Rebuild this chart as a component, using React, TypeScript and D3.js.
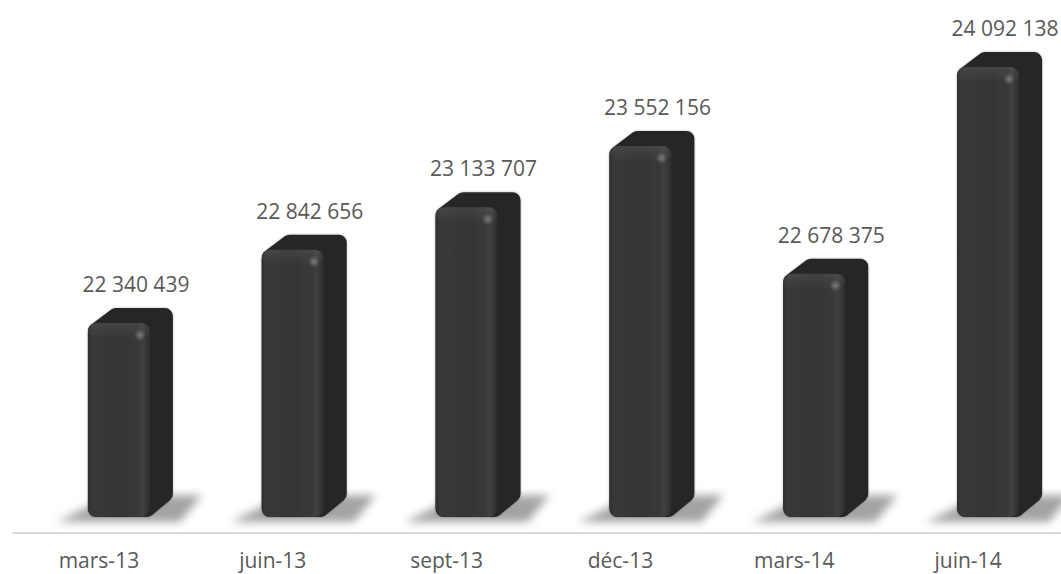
import * as d3 from 'd3';

const WIDTH = 1061;
const HEIGHT = 574;

// data
const categories = ['mars-13', 'juin-13', 'sept-13', 'déc-13', 'mars-14', 'juin-14'];
const values = [22340439, 22842656, 23133707, 23552156, 22678375, 24092138];
const yDomain = [21000000, 24500000];

// 3D look of the bars
const FRONT_W = 62;
const FRONT_SHIFT = -11; // front face left edge relative to category center
const DEPTH_X = 23;
const DEPTH_Y = -15;
const CORNER = 8;

const frLocale = d3.formatLocale({
  decimal: ',',
  thousands: ' ',
  grouping: [3],
  currency: ['', ' €'],
});
const fmt = frLocale.format(',d');

export default function App() {
  const x = d3.scaleBand<string>().domain(categories).range([12, 1055]).paddingInner(0);
  const y = d3.scaleLinear().domain(yDomain).range([519, 7.5]);

  const baseY = y(yDomain[0]) - 2;
  const axisY = baseY + 16;

  return (
    <svg
      width={WIDTH}
      height={HEIGHT}
      viewBox={`0 0 ${WIDTH} ${HEIGHT}`}
      style={{ position: 'absolute', left: 0, top: 0, display: 'block', background: '#fff' }}
    >
      <defs>
        <filter id="shadowBlur" x="-30%" y="-100%" width="160%" height="300%">
          <feGaussianBlur stdDeviation="4.5" />
        </filter>
        <filter id="halo" x="-20%" y="-10%" width="140%" height="120%">
          <feDropShadow dx="0" dy="0" stdDeviation="1.2" floodColor="#000" floodOpacity="0.3" />
        </filter>
        <linearGradient id="frontGrad" x1="0" x2="1" y1="0" y2="0">
          <stop offset="0" stopColor="#2e2e2e" />
          <stop offset="0.07" stopColor="#383838" />
          <stop offset="0.5" stopColor="#353535" />
          <stop offset="0.8" stopColor="#383838" />
          <stop offset="0.88" stopColor="#404040" />
          <stop offset="0.95" stopColor="#353535" />
          <stop offset="1" stopColor="#2c2c2c" />
        </linearGradient>
        <linearGradient id="topBevel" x1="0" x2="0" y1="0" y2="1">
          <stop offset="0" stopColor="#fff" stopOpacity="0.07" />
          <stop offset="1" stopColor="#fff" stopOpacity="0" />
        </linearGradient>
        <radialGradient id="spot">
          <stop offset="0" stopColor="#fff" stopOpacity="0.3" />
          <stop offset="1" stopColor="#fff" stopOpacity="0" />
        </radialGradient>
      </defs>

      {/* floor shadows */}
      {categories.map((c, i) => {
        const x0 = (x(c) ?? 0) + x.bandwidth() / 2 + FRONT_SHIFT;
        const pts = [
          [x0 - 31, baseY + 5],
          [x0 + 20, baseY - 20],
          [x0 + 114, baseY - 22],
          [x0 + 92, baseY + 5],
        ];
        return (
          <polygon
            key={'sh' + i}
            points={pts.map((p) => p.join(',')).join(' ')}
            fill="#808080"
            opacity={0.72}
            filter="url(#shadowBlur)"
          />
        );
      })}

      {/* axis line */}
      <line x1={12} x2={WIDTH} y1={axisY} y2={axisY} stroke="#d9d9d9" strokeWidth={2} />

      {/* bars */}
      {categories.map((c, i) => {
        const cx = (x(c) ?? 0) + x.bandwidth() / 2;
        const x0 = cx + FRONT_SHIFT;
        const x1 = x0 + FRONT_W;
        const ty = y(values[i]);
        const by = baseY;
        const r = CORNER;
        const silhouette = [
          [x0 + r, by - r],
          [x0 + r, ty + r],
          [x0 + DEPTH_X + r * 0.6, ty + DEPTH_Y + r],
          [x1 + DEPTH_X - r, ty + DEPTH_Y + r],
          [x1 + DEPTH_X - r, by + DEPTH_Y - r],
          [x1 - r * 0.4, by - r],
        ];
        return (
          <g key={'bar' + i}>
            <g filter="url(#halo)">
              <polygon
                points={silhouette.map((p) => p.join(',')).join(' ')}
                fill="#272727"
                stroke="#272727"
                strokeWidth={r * 2}
                strokeLinejoin="round"
              />
              <rect x={x0} y={ty} width={FRONT_W} height={by - ty} rx={9} fill="url(#frontGrad)" />
            </g>
            <rect x={x0} y={ty} width={FRONT_W} height={16} rx={9} fill="url(#topBevel)" />
            <circle cx={x1 - 10} cy={ty + 12} r={6} fill="url(#spot)" />
          </g>
        );
      })}

      {/* value labels */}
      {categories.map((c, i) => {
        const cx = (x(c) ?? 0) + x.bandwidth() / 2;
        return (
          <text
            key={'v' + i}
            x={cx + 37}
            y={y(values[i]) + DEPTH_Y - 16}
            textAnchor="middle"
            fontFamily="'Open Sans', sans-serif"
            fontSize={21}
            fill="#595959"
          >
            {fmt(values[i])}
          </text>
        );
      })}

      {/* category labels */}
      {categories.map((c, i) => (
        <text
          key={'c' + i}
          x={(x(c) ?? 0) + x.bandwidth() / 2}
          y={axisY + 35}
          textAnchor="middle"
          fontFamily="'Open Sans', sans-serif"
          fontSize={21}
          fill="#595959"
        >
          {c}
        </text>
      ))}
    </svg>
  );
}
